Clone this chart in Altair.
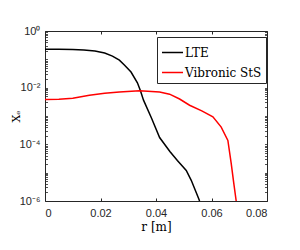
import altair as alt
import pandas as pd

# ---- data ----
R_LTE = [0.0, 0.005, 0.010, 0.014, 0.018, 0.0215, 0.0243, 0.0268, 0.0286, 0.031,
         0.0333, 0.0344, 0.0355, 0.0384, 0.0413, 0.045, 0.0477, 0.0509, 0.0527,
         0.0554, 0.0557]
X_LTE = [0.2265, 0.2254, 0.2213, 0.2138, 0.195, 0.166, 0.130, 0.0933, 0.0631, 0.0355,
         0.0148, 0.00776, 0.00363, 8.32e-4, 1.74e-4, 5.62e-5, 2.69e-5, 1.20e-5, 5.37e-6,
         1.20e-6, 1.0e-6]

R_STS = [0.0, 0.005, 0.010, 0.016, 0.0215, 0.0268, 0.0341, 0.0413, 0.0449, 0.0485,
         0.0521, 0.0565, 0.0605, 0.0635, 0.0659, 0.0671, 0.068, 0.0689]
X_STS = [0.0038, 0.00389, 0.00427, 0.00537, 0.00631, 0.00708, 0.00776, 0.00708, 0.00589,
         0.00398, 0.0024, 0.00151, 9.33e-4, 4.07e-4, 1.38e-4, 2.14e-5, 4.47e-6, 1.0e-6]

SERIES = ["LTE", "Vibronic StS"]
COLORS = ["#000000", "#ff0000"]

X_TICKS = [0, 0.02, 0.04, 0.06, 0.08]
Y_LABEL_TICKS = [1e-6, 1e-4, 1e-2, 1]
Y_LABEL_TEXT = ["10⁻⁶", "10⁻⁴", "10⁻²", "10⁰"]
DECADES = [-6, -5, -4, -3, -2, -1]
MULTS = [1, 2, 3, 4, 5, 6, 7, 8, 9]
Y_MINOR = [m * 10.0 ** d for d in DECADES for m in MULTS] + [1.0]

df = pd.concat([
    pd.DataFrame({"r": R_LTE, "xe": X_LTE, "series": SERIES[0]}),
    pd.DataFrame({"r": R_STS, "xe": X_STS, "series": SERIES[1]}),
], ignore_index=True)

W, H = 222, 170
AX = "#262626"
SERIF = "DejaVu Serif"

xs = alt.Scale(domain=[0, 0.08], nice=False, zero=False)
ys = alt.Scale(type="log", domain=[1e-6, 1], nice=False)

label_expr = " : ".join(
    f"datum.value < {v * 3} ? '{t}'" for v, t in zip(Y_LABEL_TICKS[:-1], Y_LABEL_TEXT[:-1])
) + f" : '{Y_LABEL_TEXT[-1]}'"

main = alt.Chart(df).mark_line(strokeWidth=1.5, clip=True).encode(
    x=alt.X("r:Q", scale=xs, axis=alt.Axis(
        values=X_TICKS, format=".2~f", title="r [m]", ticks=False, domain=False,
        grid=False, labelFont="Liberation Sans", labelFontSize=11, labelColor=AX,
        labelPadding=6, titleFont=SERIF, titleFontSize=12,
        titleFontWeight="normal", titleColor="#000", titlePadding=3)),
    y=alt.Y("xe:Q", scale=ys, axis=alt.Axis(
        values=Y_LABEL_TICKS, labelExpr=label_expr, title="Xₑ", ticks=False,
        domain=False, grid=False, labelFont="Liberation Sans", labelFontSize=11,
        labelColor=AX, labelPadding=5, titleFont=SERIF, titleFontSize=11,
        titleFontWeight="normal", titleColor="#000", titlePadding=-2)),
    color=alt.Color("series:N", scale=alt.Scale(domain=SERIES, range=COLORS),
                    legend=alt.Legend(
                        title=None, orient="none", legendX=112, legendY=6,
                        strokeColor=AX, fillColor="white", padding=4,
                        symbolType="stroke", symbolSize=441, symbolStrokeWidth=1.5,
                        labelFont=SERIF, labelFontSize=12,
                        labelColor="#000", rowPadding=2, labelOffset=1)),
)

def tick_layer(x_orient, y_orient):
    return alt.Chart(df).mark_line(opacity=0).encode(
        x=alt.X("r:Q", scale=xs, axis=alt.Axis(
            orient=x_orient, offset=-H, values=X_TICKS, labels=False, domain=False,
            grid=False, ticks=True, tickSize=3, tickColor=AX, title=None)),
        y=alt.Y("xe:Q", scale=ys, axis=alt.Axis(
            orient=y_orient, offset=-W, values=Y_MINOR, labels=False, domain=False,
            grid=False, ticks=True, tickSize=2.5, tickColor=AX, tickWidth=0.8,
            title=None)),
    )

chart = alt.layer(main, tick_layer("top", "right"), tick_layer("bottom", "left")).resolve_axis(
    x="independent", y="independent"
).properties(
    width=W, height=H, autosize="none",
    padding={"left": 37, "top": 23, "right": 25, "bottom": 40},
).configure_view(stroke=AX, strokeWidth=1).configure_legend(labelFont=SERIF)

chart.save("out.html", embed_options={"renderer": "svg", "actions": False})
